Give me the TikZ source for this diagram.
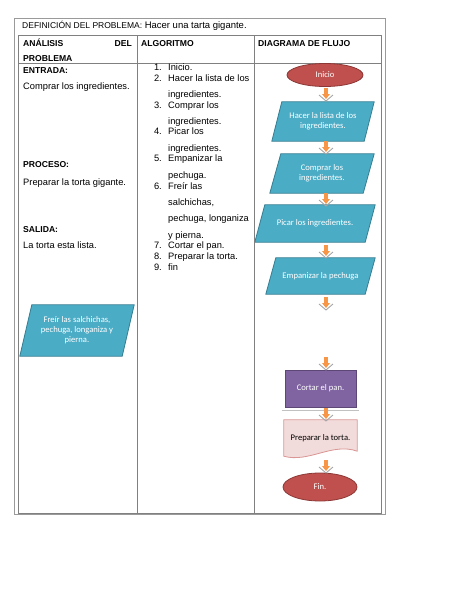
\documentclass[tikz,border=0pt]{standalone}
\usepackage{fontspec}
\setmainfont{Liberation Sans}
\newfontfamily\calib{Carlito}
\usetikzlibrary{calc,shapes.geometric,backgrounds}
\definecolor{mytealF}{HTML}{4BACC6}
\definecolor{mytealD}{HTML}{357D91}
\definecolor{myredF}{HTML}{C0504D}
\definecolor{myredD}{HTML}{8C3836}
\definecolor{mypurF}{HTML}{8064A2}
\definecolor{mypurD}{HTML}{5C4776}
\definecolor{mypinkF}{HTML}{F2DCDB}
\definecolor{mypinkD}{HTML}{D99694}
\definecolor{myorange}{HTML}{F79646}
\definecolor{mychev}{HTML}{A6A6A6}
\definecolor{myrule}{HTML}{808080}
\definecolor{myframe}{HTML}{9A9A9A}
\newcommand\flowarrow[2]{%
  \draw[mychev, line width=0.9pt] (#1-7,#2+7) -- (#1,#2+13) -- (#1+7,#2+7);
  \fill[myorange] (#1-1.6,#2) rectangle (#1+1.6,#2+6.5);
  \fill[myorange] (#1-4,#2+6) -- (#1+4,#2+6) -- (#1,#2+11) -- cycle;}
\tikzset{
  txt/.style={inner sep=0pt, font=\fontsize{9.3}{11}\selectfont},
  hdr/.style={inner sep=0pt, font=\fontsize{8.6}{10}\selectfont\bfseries},
  shapetxt/.style={inner sep=0pt, align=center, text=white, font=\calib\fontsize{8.6}{10.2}\selectfont},
  paranode/.style={shapetxt, minimum width=#1},
  parashape/.style={fill=mytealF, draw=mytealD, line width=0.8pt},
  ovalnode/.style={ellipse, shapetxt, fill=myredF, draw=myredD, line width=0.8pt},
  tablerule/.style={draw=myrule, line width=0.8pt},
}
\begin{document}
\begin{tikzpicture}[x=1pt,y=-1pt]
\useasboundingbox (0,0) rectangle (474,613);
% frame and table
\draw[myframe, line width=0.8pt] (14,18) rectangle (385,514);
\draw[tablerule] (18,35) rectangle (381,513);
\draw[tablerule] (18,63) -- (381,63);
\draw[tablerule] (137,35) -- (137,513);
\draw[tablerule] (254,35) -- (254,513);
% title
\node[txt, anchor=base west] (title) at (22,28) {{\fontsize{8.5}{10}\selectfont DEFINICIÓN DEL PROBLEMA:} {\fontsize{9.5}{11}\selectfont Hacer una tarta gigante.}};
% headers
\node[hdr, anchor=base west] (hA) at (23,46) {ANÁLISIS};
\node[hdr, anchor=base east] (hD) at (132,46) {DEL};
\node[hdr, anchor=base west] (hP) at (23,61) {PROBLEMA};
\node[hdr, anchor=base west] (hAlg) at (141,46) {ALGORITMO};
\node[hdr, anchor=base west] (hDia) at (258,46) {DIAGRAMA DE FLUJO};
% left column
\node[hdr, anchor=base west] (ent) at (23,73) {ENTRADA:};
\node[txt, anchor=base west] (entT) at (23,89) {Comprar los ingredientes.};
\node[hdr, anchor=base west] (pro) at (23,167) {PROCESO:};
\node[txt, anchor=base west] (proT) at (23,185) {Preparar la torta gigante.};
\node[hdr, anchor=base west] (sal) at (23,232) {SALIDA:};
\node[txt, anchor=base west] (salT) at (23,248) {La torta esta lista.};
% algorithm
\foreach \n/\yy in {1./70,2./81,3./108,4./134,5./161,6./189,7./248,8./259,9./270}{
  \node[txt, anchor=base east] at (162,\yy) {\n};}
\node[txt, anchor=base west] (a1) at (168,70) {Inicio.};
\node[txt, anchor=base west] (a2) at (168,81) {Hacer la lista de los};
\node[txt, anchor=base west] (a2b) at (168,97) {ingredientes.};
\node[txt, anchor=base west] (a3) at (168,108) {Comprar los};
\node[txt, anchor=base west] (a3b) at (168,124) {ingredientes.};
\node[txt, anchor=base west] (a4) at (168,134) {Picar los};
\node[txt, anchor=base west] (a4b) at (168,151) {ingredientes.};
\node[txt, anchor=base west] (a5) at (168,161) {Empanizar la};
\node[txt, anchor=base west] (a5b) at (168,178) {pechuga.};
\node[txt, anchor=base west] (a6) at (168,189) {Freír las};
\node[txt, anchor=base west] (a6b) at (168,205) {salchichas,};
\node[txt, anchor=base west] (a6c) at (168,221) {pechuga, longaniza};
\node[txt, anchor=base west] (a6d) at (168,238) {y pierna.};
\node[txt, anchor=base west] (a7) at (168,248) {Cortar el pan.};
\node[txt, anchor=base west] (a8) at (168,259) {Preparar la torta.};
\node[txt, anchor=base west] (a9) at (168,270) {fin};
% flowchart nodes
\node[ovalnode, minimum width=76, minimum height=23] (inicio) at (325,75) {Inicio};
\node[paranode=102, minimum height=39] (p1) at (323,121.5) {Hacer la lista de los\\ingredientes.};
\node[paranode=104, minimum height=39] (p2) at (322,173.5) {Comprar los\\ingredientes.};
\node[paranode=120, minimum height=37] (p3) at (315,223.5) {Picar los ingredientes.};
\node[paranode=109, minimum height=36] (p4) at (320.5,276) {Empanizar la pechuga};
\node[paranode=114, minimum height=51] (p5) at (77,330.5) {Freír las salchichas,\\pechuga, longaniza y\\pierna.};
\node[shapetxt, minimum width=71, minimum height=37, fill=mypurF, draw=mypurD, line width=0.8pt] (cortar) at (320.5,388.5) {Cortar el pan.};
\node[shapetxt, text=black, minimum width=73, minimum height=38] (doc) at (320.5,439) {\raisebox{2pt}{Preparar la torta.}};
\node[ovalnode, minimum width=74, minimum height=28] (fin) at (320,487) {Fin.};
\begin{scope}[on background layer]
  \foreach \p/\s in {p1/10,p2/11,p3/10,p4/10,p5/12}{
    \draw[parashape] (\p.south west) -- ($(\p.south east)+(-\s,0)$) -- (\p.north east) -- ($(\p.north west)+(\s,0)$) -- cycle;}
  \draw[fill=mypinkF, draw=mypinkD, line width=0.8pt] (doc.north west) -- (doc.north east) -- ($(doc.south east)+(0,-7)$) .. controls ($(doc.south)+(12,-16)$) and ($(doc.south)+(-12,5)$) .. ($(doc.south west)+(0,-2)$) -- cycle;
\end{scope}
\draw[mychev!70, line width=1pt] ($(cortar.south west)+(-3,3)$) -- ($(cortar.south east)+(3,3)$);
% arrows
\flowarrow{326}{88}
\flowarrow{326}{141}
\flowarrow{326}{193}
\flowarrow{326}{245}
\flowarrow{326}{297}
\flowarrow{326}{357}
\flowarrow{326}{408}
\flowarrow{326}{460}
\end{tikzpicture}
\end{document}
